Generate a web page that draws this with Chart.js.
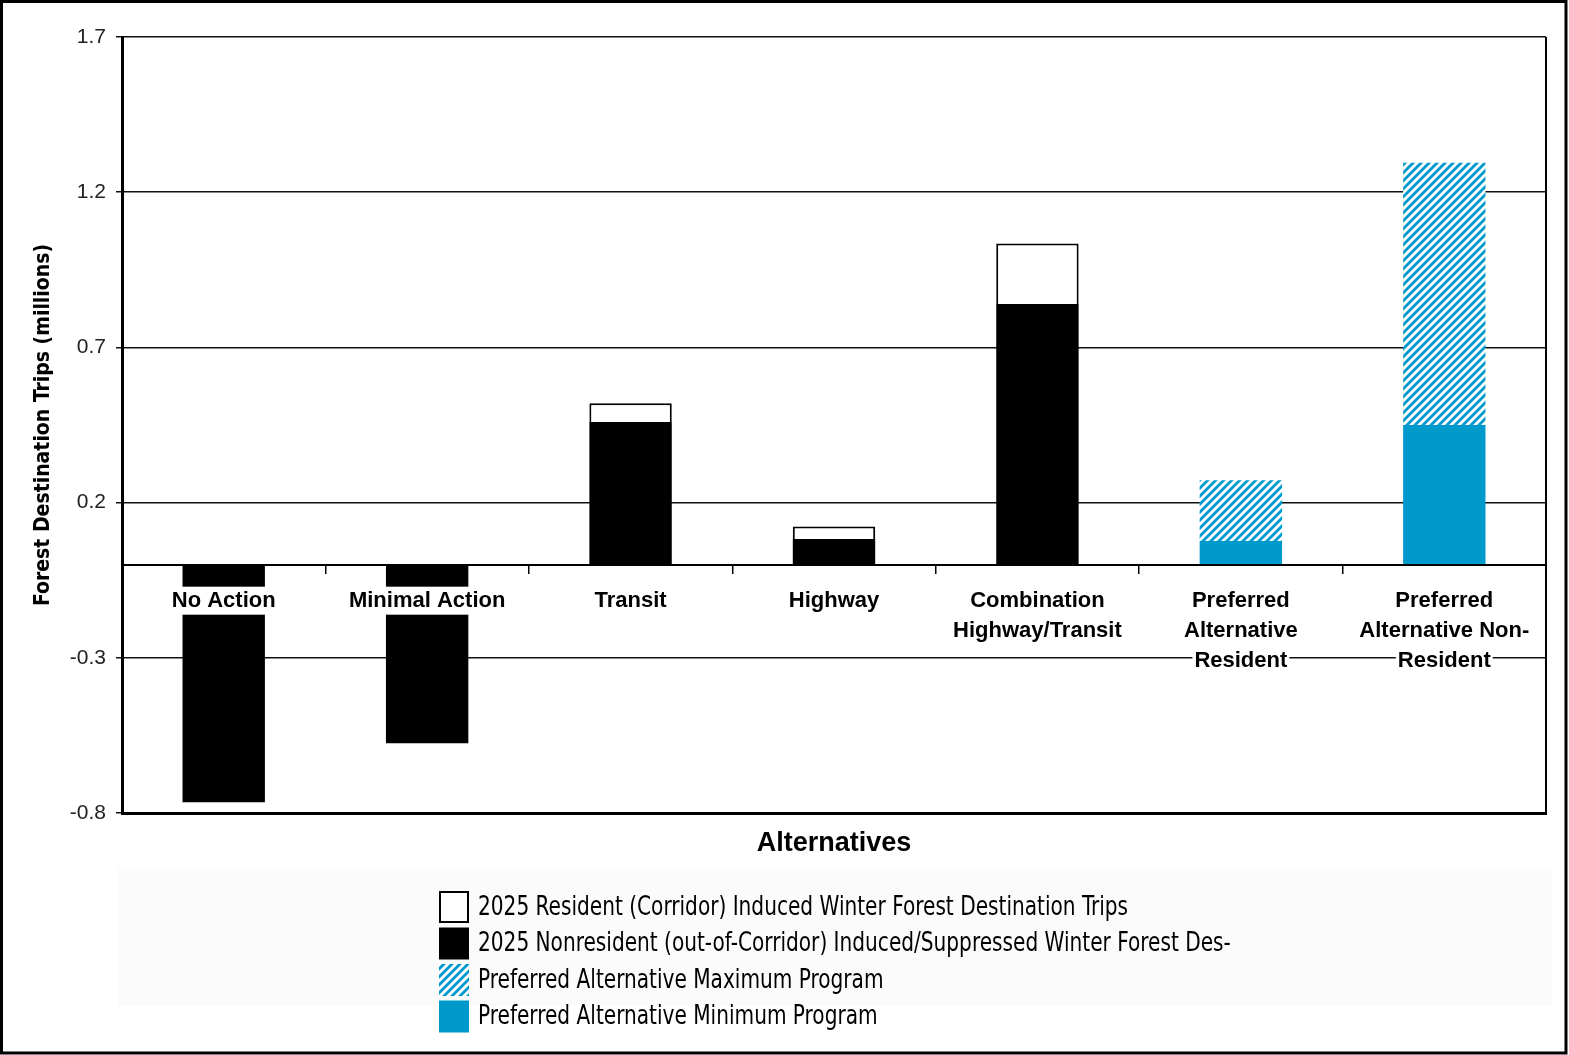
<!DOCTYPE html>
<html>
<head>
<meta charset="utf-8">
<script src="https://cdn.jsdelivr.net/npm/chart.js@4.4.1/dist/chart.umd.min.js"></script>
<style>
  html, body { margin: 0; padding: 0; background: #fff; }
</style>
</head>
<body>
<canvas id="tripsChart" width="1569" height="1055"></canvas>
<script>
// values (millions of trips)
const categories = [
    ["No Action"], ["Minimal Action"], ["Transit"], ["Highway"],
    ["Combination", "Highway/Transit"],
    ["Preferred", "Alternative", "Resident"],
    ["Preferred", "Alternative Non-", "Resident"]
];
const residentTrips    = [null, null, 0.06, 0.04, 0.195, null, null];
const nonresidentTrips = [-0.765, -0.575, 0.46, 0.083, 0.84, null, null];
const preferredMaximum = [null, null, null, null, null, 0.196, 0.845];
const preferredMinimum = [null, null, null, null, null, 0.076, 0.45];
const yTicks = [-0.8, -0.3, 0.2, 0.7, 1.2, 1.7];
const seriesLabels = [
    "2025 Resident (Corridor) Induced Winter Forest Destination Trips",
    "2025 Nonresident (out-of-Corridor) Induced/Suppressed Winter Forest Des-",
    "Preferred Alternative Maximum Program",
    "Preferred Alternative Minimum Program"
];

const blue = '#0099cc';
const canvas = document.getElementById("tripsChart");
const ctx = canvas.getContext('2d');

// diagonal hatch for the maximum program
function hatchPattern() {
    const tile = document.createElement('canvas');
    tile.width = 8;
    tile.height = 8;
    const t = tile.getContext('2d');
    t.fillStyle = '#fff';
    t.fillRect(0, 0, 8, 8);
    t.strokeStyle = blue;
    t.lineWidth = 2.8;
    t.beginPath();
    t.moveTo(-2, 10); t.lineTo(10, -2);
    t.moveTo(-2, 2); t.lineTo(2, -2);
    t.moveTo(6, 10); t.lineTo(10, 6);
    t.stroke();
    return ctx.createPattern(tile, 'repeat');
}

const narrow = '"Liberation Sans Narrow", "DejaVu Sans Condensed", sans-serif';
const catFont = { size: 22, weight: 'bold', lineHeight: 30 / 22 };
const catTickLength = 8;
const catPadding = 13;

// white box behind each line of the category labels (chart.js redraws
// the built-in backdrop per line, which hides multi-line labels)
const labelBackdrop = {
    id: 'labelBackdrop',
    afterDatasetsDraw(chart) {
        const scale = chart.scales.x2;
        const c = chart.ctx;
        const lh = catFont.size * catFont.lineHeight;
        const zero = chart.scales.y.getPixelForValue(0);
        c.save();
        c.font = 'bold ' + catFont.size + 'px "Liberation Sans", Arial, sans-serif';
        c.fillStyle = '#fff';
        categories.forEach((lines, i) => {
            const x = scale.getPixelForTick(i);
            lines.forEach((line, j) => {
                const cy = zero + catTickLength + catPadding + lh / 2 + j * lh;
                const w = c.measureText(line).width + 4;
                c.fillRect(x - w / 2, cy - lh / 2 + 1, w, lh - 2);
            });
        });
        c.restore();
    }
};

const framePlugin = {
    id: 'frame',
    beforeDraw(chart) {
        const c = chart.ctx;
        c.save();
        c.fillStyle = '#fbfbfb';
        c.fillRect(118, 868, 1434, 138);
        c.restore();
    },
    afterDraw(chart) {
        const c = chart.ctx;
        const area = chart.chartArea;
        c.save();
        c.strokeStyle = '#000';
        c.lineWidth = 2;
        c.beginPath();
        c.moveTo(area.right, area.top);
        c.lineTo(area.right, area.bottom);
        c.stroke();
        c.lineWidth = 3;
        c.strokeRect(1.5, 1.5, 1564.5, 1051.5);

        // legend, one entry per row
        c.font = '26px ' + narrow;
        c.textBaseline = 'middle';
        chart.data.datasets.forEach((ds, i) => {
            const cy = 907 + i * 36.5;
            c.fillStyle = ds.backgroundColor;
            c.fillRect(439, cy - 16, 30, 32);
            if (ds.borderWidth) {
                c.lineWidth = 2;
                c.strokeStyle = ds.borderColor;
                c.strokeRect(440, cy - 15, 28, 30);
            }
            c.fillStyle = '#000';
            c.save();
            c.translate(478, cy + 1);
            c.scale(0.86, 1);
            c.fillText(ds.label, 0, 0);
            c.restore();
        });
        c.restore();
    }
};

Chart.defaults.font.family = '"Liberation Sans", Arial, sans-serif';
Chart.defaults.color = '#000';

new Chart(canvas, {
    type: 'bar',
    data: {
        labels: categories,
        datasets: [
            {
                label: seriesLabels[0],
                data: residentTrips,
                backgroundColor: '#fff',
                borderColor: '#000',
                borderWidth: 2,
                order: 2,
            },
            {
                label: seriesLabels[1],
                data: nonresidentTrips,
                backgroundColor: '#000',
                borderWidth: 0,
                order: 1,
            },
            {
                label: seriesLabels[2],
                data: preferredMaximum,
                backgroundColor: hatchPattern(),
                borderWidth: 0,
                order: 2,
            },
            {
                label: seriesLabels[3],
                data: preferredMinimum,
                backgroundColor: blue,
                borderWidth: 0,
                order: 1,
            },
        ],
    },
    options: {
        responsive: false,
        animation: false,
        devicePixelRatio: 1,
        barPercentage: 0.405,
        categoryPercentage: 1,
        layout: {
            padding: { left: 0, right: 23, top: 37, bottom: 182 }
        },
        scales: {
            x: {
                stacked: true,
                offset: true,
                grid: { display: false },
                ticks: { display: false },
                border: { display: true, color: '#000', width: 3 },
                title: {
                    display: true,
                    text: 'Alternatives',
                    font: { size: 27, weight: 'bold' },
                    padding: { top: 0, bottom: 13 },
                },
                afterFit: (scale) => { scale.height = 60; },
            },
            x2: {
                type: 'category',
                axis: 'x',
                position: { y: 0 },
                offset: true,
                grid: {
                    display: true,
                    offset: true,
                    drawOnChartArea: false,
                    drawTicks: true,
                    tickLength: catTickLength,
                    color: '#000',
                    lineWidth: 1.5,
                },
                border: { display: true, color: '#000', width: 2, z: 1 },
                ticks: {
                    z: 1,
                    padding: catPadding,
                    maxRotation: 0,
                    autoSkip: false,
                    font: catFont,
                },
            },
            y: {
                stacked: true,
                min: -0.8,
                max: 1.7,
                afterBuildTicks: (scale) => {
                    scale.ticks = yTicks.map(v => ({ value: v }));
                },
                afterFit: (scale) => { scale.width = 122; },
                grid: {
                    color: '#111',
                    lineWidth: 1.5,
                    tickLength: 6,
                },
                border: { display: true, color: '#000', width: 3 },
                ticks: {
                    padding: 10,
                    font: { size: 21 },
                    color: '#222',
                    callback: (v) => v.toFixed(1),
                },
                title: {
                    display: true,
                    text: 'Forest Destination Trips (millions)',
                    font: { family: narrow, size: 21, weight: 'bold' },
                    padding: { top: 31, bottom: 0 },
                },
            },
        },
        plugins: {
            legend: { display: false },
            tooltip: { enabled: false },
        },
    },
    plugins: [labelBackdrop, framePlugin],
});
</script>
</body>
</html>
